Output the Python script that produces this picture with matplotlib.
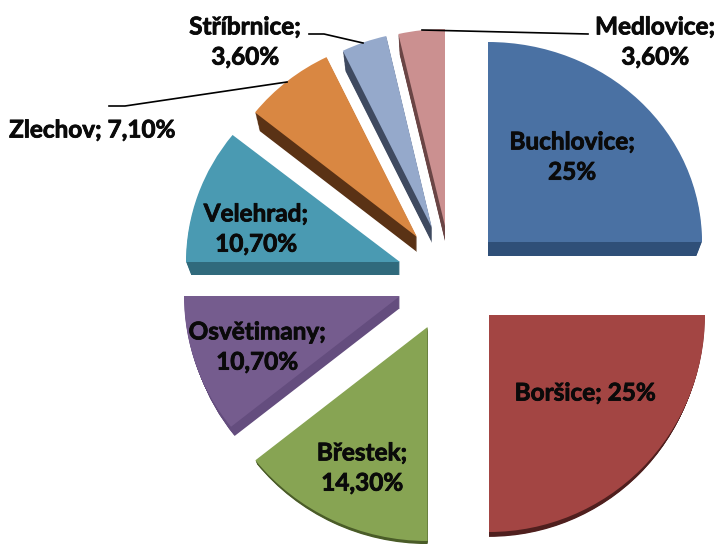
import matplotlib
matplotlib.use('Agg')
import matplotlib.pyplot as plt
import matplotlib.patheffects as pe
from matplotlib.patches import Wedge
from matplotlib.transforms import Affine2D

plt.rcParams['font.family'] = ['Lato', 'DejaVu Sans']

# data
villages = ['Buchlovice', 'Boršice', 'Břestek', 'Osvětimany', 'Velehrad', 'Zlechov', 'Stříbrnice', 'Medlovice']
shares = [25, 25, 14.3, 10.7, 10.7, 7.1, 3.6, 3.6]
share_labels = ['25%', '25%', '14,30%', '10,70%', '10,70%', '7,10%', '3,60%', '3,60%']

# colours
face_colors = ['#4A71A3', '#A34543', '#87A453', '#755C8E', '#4A9AB2', '#D98742', '#95A9CB', '#CB9090']
side_colors = ['#2F4F78', '#4F1F1E', '#4A5C28', '#644D7E', '#306A7C', '#5A3215', '#3F4A60', '#6A4545']

# layout in pixels, each slice has its own apex and scale because of the perspective
apex_x = [488, 489, 427.5, 400, 400, 417, 432, 445]
apex_y = [242, 315, 327, 296, 262, 237, 228, 226]
radius_x = [214, 216, 220, 216, 214, 207, 204, 208]
radius_y = [200, 217, 214, 210, 204, 200, 197, 197]
depth = [14, 8, 5, 12, 13, 15, 15, 15]

label_x = [572, 585, 362, 257, 256, 92, 245, 655]
label_y = [157, 393, 468, 347, 229, 130, 42, 42]
one_line = [False, True, False, False, False, True, False, False]

leaders = [
    ([109, 125, 287], [106, 106, 82]),
    ([309, 324, 363], [34, 34, 43]),
    ([422, 588], [30, 34]),
]

fig = plt.figure(figsize=(7.18, 5.44), dpi=100)
ax = fig.add_axes([0, 0, 1, 1])

wedges, _ = ax.pie(shares, colors=face_colors, startangle=90, counterclock=False,
                   wedgeprops={'linewidth': 0, 'zorder': 3})
ax.set_aspect('auto')
ax.set_xlim(0, 718)
ax.set_ylim(544, 0)
ax.axis('off')

for i, w in enumerate(wedges):
    w.set_transform(Affine2D().scale(radius_x[i], -radius_y[i]).translate(apex_x[i], apex_y[i]) + ax.transData)
    # side of the slice: stacked copies going down and shrinking a little
    for d in range(1, depth[i] + 1):
        shrink = 1 - 0.0018 * d
        side = Wedge(w.center, w.r, w.theta1, w.theta2, facecolor=side_colors[i], linewidth=0, zorder=2)
        side.set_transform(Affine2D().scale(radius_x[i] * shrink, -radius_y[i] * shrink)
                           .translate(apex_x[i], apex_y[i] + d) + ax.transData)
        ax.add_patch(side)

for i, name in enumerate(villages):
    sep = '; ' if one_line[i] else ';\n'
    ax.text(label_x[i], label_y[i], name + sep + share_labels[i], ha='center', va='center',
            fontsize=17.5, fontweight='bold', color='#0a0a0a', linespacing=1.38, zorder=5,
            path_effects=[pe.withStroke(linewidth=0.6, foreground='#0a0a0a')])

for xs, ys in leaders:
    ax.plot(xs, ys, color='black', lw=1.2, zorder=4)

fig.savefig('out.png', dpi=100)
